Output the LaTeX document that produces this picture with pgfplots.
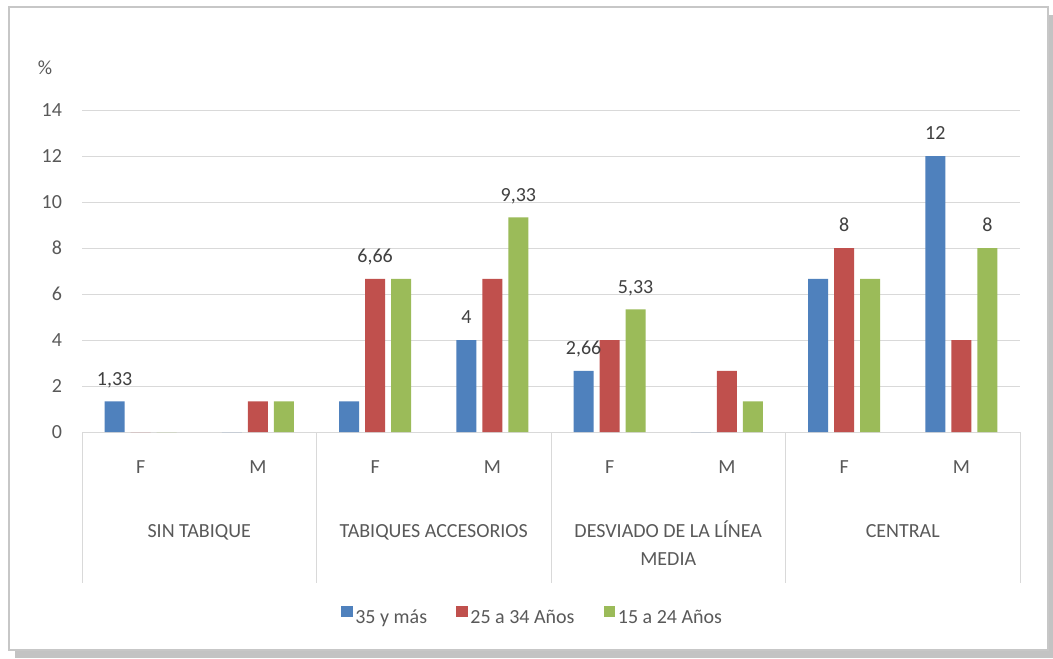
\documentclass[border=0pt]{standalone}
\usepackage{fontspec}
\setmainfont{Carlito}
\usepackage{pgfplots}
\pgfplotsset{compat=1.18}
\definecolor{serA}{HTML}{4F81BD}
\definecolor{serB}{HTML}{C0504D}
\definecolor{serC}{HTML}{9BBB59}
\definecolor{txt}{HTML}{595959}
\definecolor{lbl}{HTML}{404040}
\definecolor{gridc}{HTML}{D9D9D9}
\definecolor{shadow}{HTML}{C3C3C3}
\newcommand{\chartfont}{\fontsize{15}{18}\selectfont}

\begin{document}
\begin{tikzpicture}[x=0.75pt,y=0.75pt]
% canvas: 1053 x 658 units, y pointing up
\fill[white] (0,0) rectangle (1053,658);
\fill[shadow] (15,0) rectangle (1053,643);
\filldraw[fill=white, draw=black!22, line width=0.8pt] (9,8) rectangle (1048,651);
\node[font=\chartfont, text=txt] at (45,590) {\%};

\begin{axis}[
  at={(61.5pt,169.5pt)}, anchor=south west,
  scale only axis, width=703.5pt, height=241.5pt,
  clip=false,
  ybar=4.5pt, bar width=15pt,
  xmin=-0.5, xmax=7.5, ymin=0, ymax=14,
  xtick={0,...,7}, xticklabels={F,M,F,M,F,M,F,M},
  ytick={0,2,...,14},
  ymajorgrids, grid style={gridc, line width=0.75pt},
  axis x line*=bottom, axis y line*=left,
  x axis line style={gridc, line width=0.75pt, -},
  y axis line style={draw=none},
  major tick length=0pt,
  tick label style={font=\chartfont, text=txt},
  /pgf/number format/assume math mode=true,
  yticklabel style={xshift=-11.5pt},
  xticklabel style={anchor=base, yshift=-31pt},
  point meta=explicit symbolic,
  nodes near coords,
  every node near coord/.append style={font=\chartfont, text=lbl, anchor=base, yshift=12.3pt, inner sep=0pt},
  legend columns=3,
  legend image code/.code={\fill[#1] (0pt,0.3pt) rectangle (8.5pt,8.8pt);},
  legend style={at={(0.4808,-0.5745)}, anchor=center, draw=none, fill=none,
    font=\chartfont, text=txt, inner sep=0pt,
    /tikz/every even column/.append style={column sep=20pt},
    nodes={inner sep=2pt}},
]
\addplot[fill=serA, draw=none] coordinates {
  (0,1.33) [{1,33}] (1,0) [{}] (2,1.33) [{}] (3,4) [{4}]
  (4,2.66) [{2,66}] (5,0) [{}] (6,6.66) [{}] (7,12) [{12}]};
\addplot[fill=serB, draw=none] coordinates {
  (0,0) [{}] (1,1.33) [{}] (2,6.66) [{6,66}] (3,6.66) [{}]
  (4,4) [{}] (5,2.66) [{}] (6,8) [{8}] (7,4) [{}]};
\addplot[fill=serC, draw=none] coordinates {
  (0,0) [{}] (1,1.33) [{}] (2,6.66) [{}] (3,9.33) [{9,33}]
  (4,5.33) [{5,33}] (5,1.33) [{}] (6,6.66) [{}] (7,8) [{8}]};
\legend{35 y más, 25 a 34 Años, 15 a 24 Años}

% group separators below the category axis
\pgfplotsinvokeforeach{-0.5,1.5,3.5,5.5,7.5}{
  \draw[gridc, line width=0.75pt] (axis cs:#1,0) -- ++(0pt,-113.25pt);
}

% group names
\begin{scope}[every node/.style={font=\chartfont, text=txt, anchor=base, inner sep=0pt}]
\node[yshift=-78.75pt] at (axis cs:0.5,0) {SIN TABIQUE};
\node[yshift=-78.75pt] at (axis cs:2.5,0) {TABIQUES ACCESORIOS};
\node[yshift=-78.75pt] at (axis cs:4.5,0) {DESVIADO DE LA LÍNEA};
\node[yshift=-99.75pt] at (axis cs:4.5,0) {MEDIA};
\node[yshift=-78.75pt] at (axis cs:6.5,0) {CENTRAL};
\end{scope}
\end{axis}
\end{tikzpicture}
\end{document}
